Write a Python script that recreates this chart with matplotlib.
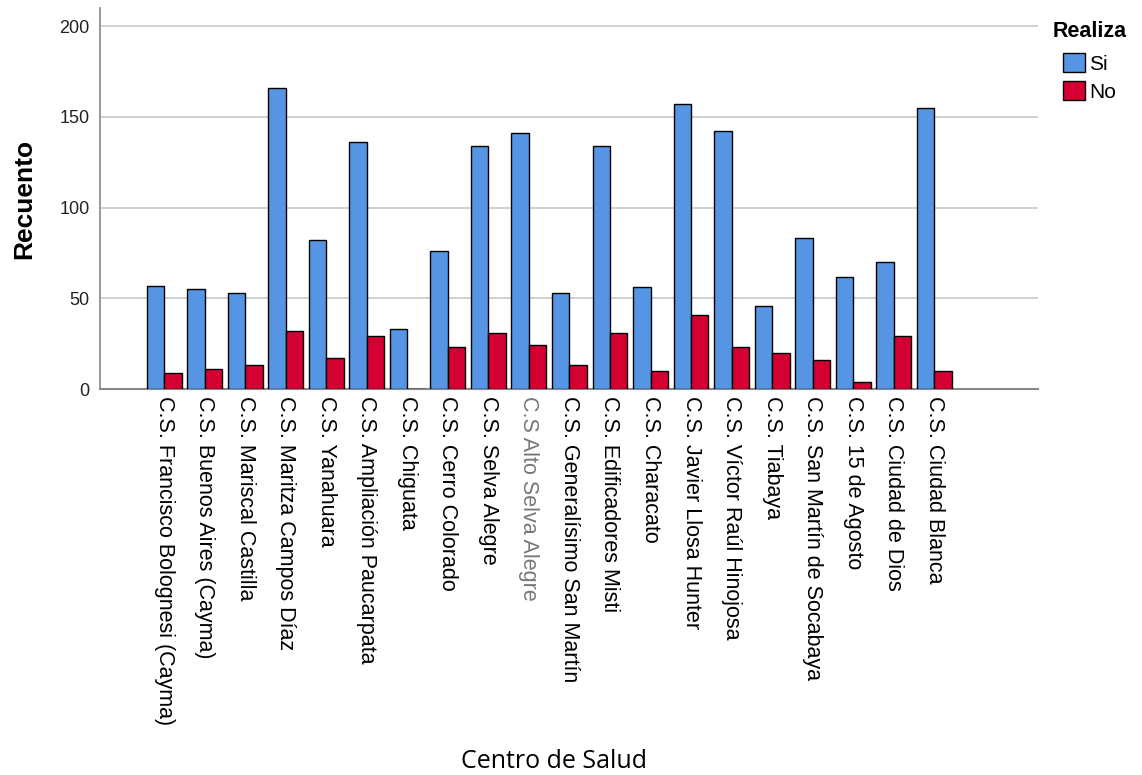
import numpy as np
import matplotlib.pyplot as plt
from matplotlib.patches import Patch

# Data
centros = [
    "C.S. Francisco Bolognesi (Cayma)",
    "C.S. Buenos Aires (Cayma)",
    "C.S. Mariscal Castilla",
    "C.S. Maritza Campos Díaz",
    "C.S. Yanahuara",
    "C.S. Ampliación Paucarpata",
    "C.S. Chiguata",
    "C.S. Cerro Colorado",
    "C.S. Selva Alegre",
    "C.S Alto Selva Alegre",
    "C.S. Generalísimo San Martín",
    "C.S. Edificadores Misti",
    "C.S. Characato",
    "C.S. Javier Llosa Hunter",
    "C.S. Víctor Raúl Hinojosa",
    "C.S. Tiabaya",
    "C.S. San Martín de Socabaya",
    "C.S. 15 de Agosto",
    "C.S. Ciudad de Dios",
    "C.S. Ciudad Blanca",
]
si_counts = [57, 55, 53, 166, 82, 136, 33, 76, 134, 141, 53, 134, 56, 157, 142, 46, 83, 62, 70, 155]
no_counts = [9, 11, 13, 32, 17, 29, 0, 23, 31, 24, 13, 31, 10, 41, 23, 20, 16, 4, 29, 10]

color_si = "#5595E3"
color_no = "#D50032"

plt.rcParams["font.family"] = ["Liberation Sans", "DejaVu Sans"]

fig = plt.figure(figsize=(11.42, 7.75), dpi=100)
ax = fig.add_axes([0.0876, 0.498, 0.821, 0.4917])

x = np.arange(len(centros))
w = 0.43
ax.bar(x - w / 2, si_counts, width=w, color=color_si, edgecolor="black", linewidth=1.0, zorder=3)
ax.bar(x + w / 2, no_counts, width=w, color=color_no, edgecolor="black", linewidth=1.0, zorder=3)

ax.set_xlim(-1.58, 21.55)
ax.set_ylim(0, 210)
ax.set_yticks([0, 50, 100, 150, 200])
ax.yaxis.grid(True, color="#c8c8c8", linewidth=1.2, zorder=0)
ax.set_axisbelow(True)

ax.set_xticks(x)
ax.set_xticklabels(centros, rotation=270, fontsize=15.5, va="top", ha="center")
ax.get_xticklabels()[9].set_color("#777777")
ax.tick_params(axis="x", length=0, pad=5)
ax.tick_params(axis="y", length=0, pad=7.5, labelsize=13, labelcolor="#222222")

for side in ["top", "right"]:
    ax.spines[side].set_visible(False)
ax.spines["left"].set_color("#888888")
ax.spines["bottom"].set_color("#888888")
ax.spines["left"].set_linewidth(1.2)
ax.spines["bottom"].set_linewidth(1.5)

ax.set_ylabel("Recuento", fontsize=19, fontweight="bold")
ax.yaxis.set_label_coords(-0.0676, 0.5)

fig.text(0.485, 1 - 768 / 775, "Centro de Salud", fontsize=18, family=["Open Sans", "DejaVu Sans"],
         ha="center", va="baseline")

# legend: title as separate text so it sits left of the patches
fig.text(1053 / 1142, 1 - 37 / 775, "Realiza", fontsize=15.5, fontweight="bold",
         ha="left", va="baseline")
handles = [Patch(facecolor=color_si, edgecolor="black", label="Si"),
           Patch(facecolor=color_no, edgecolor="black", label="No")]
leg = fig.legend(handles=handles, loc="upper left",
                 bbox_to_anchor=(1063 / 1142, 1 - 53 / 775), frameon=False,
                 fontsize=15, handlelength=1.05, handleheight=1.05, handletextpad=0.2,
                 labelspacing=0.35, borderpad=0, borderaxespad=0)

fig.savefig("out.png", dpi=100)
